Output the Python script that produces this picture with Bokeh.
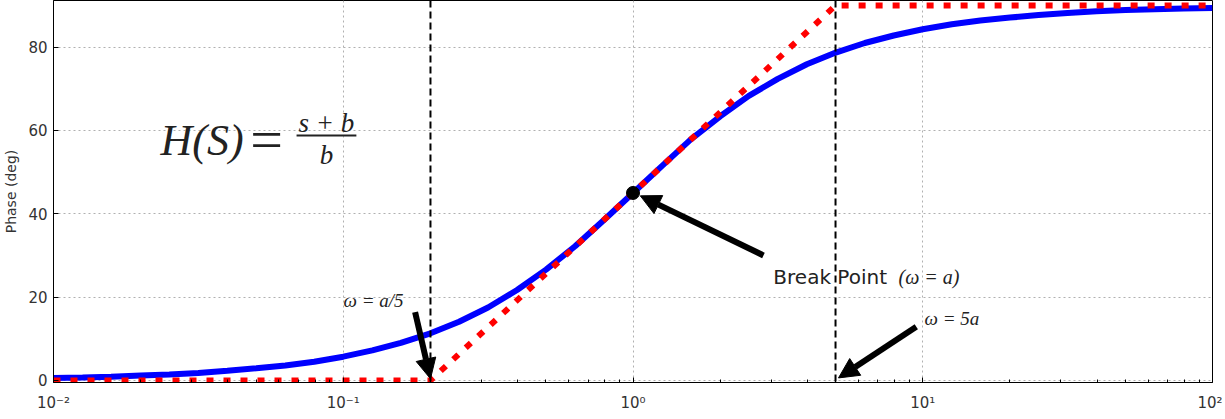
from bokeh.plotting import figure
from bokeh.models import (FixedTicker, CustomJSTickFormatter, Span, Label, Arrow,
                          NormalHead, Range1d)
from bokeh.embed import file_html
from bokeh.resources import INLINE

# ---- data ----
freq = [0.01, 0.0126, 0.0158, 0.02, 0.0251, 0.0316, 0.0398, 0.0501, 0.0631, 0.0794,
        0.1, 0.126, 0.158, 0.2, 0.251, 0.316, 0.398, 0.501, 0.631, 0.794,
        1.0, 1.26, 1.58, 2.0, 2.51, 3.16, 3.98, 5.01, 6.31, 7.94,
        10, 12.6, 15.8, 20, 25.1, 31.6, 39.8, 50.1, 63.1, 79.4, 100]
phase = [0.6, 0.7, 0.9, 1.2, 1.4, 1.8, 2.3, 2.9, 3.6, 4.5,
         5.7, 7.2, 9.0, 11.3, 14.1, 17.5, 21.7, 26.6, 32.2, 38.5,
         45.0, 51.5, 57.8, 63.4, 68.3, 72.4, 75.9, 78.7, 81.0, 82.8,
         84.3, 85.5, 86.4, 87.1, 87.7, 88.2, 88.6, 88.9, 89.1, 89.3, 89.4]
asym_freq = [0.01, 0.2, 5.0, 100]
asym_phase = [0, 0, 90, 90]
corner_freqs = [0.2, 5.0]
break_freq = [1.0]
break_phase = [45.0]
x_ticks = [0.01, 0.1, 1, 10, 100]
y_ticks = [0, 20, 40, 60, 80]

p = figure(x_axis_type="log", frame_width=1159, frame_height=382,
           min_border_left=47, min_border_right=10, min_border_top=0, min_border_bottom=20,
           x_range=Range1d(0.01, 100), y_range=Range1d(-0.5, 91.2),
           output_backend="svg", toolbar_location=None)
p.background_fill_color = "white"
p.outline_line_color = "black"
p.outline_line_width = 1

minor = [m * d for d in [0.01, 0.1, 1, 10] for m in range(2, 10)]
p.xaxis.ticker = FixedTicker(ticks=x_ticks, minor_ticks=minor)
p.yaxis.ticker = FixedTicker(ticks=y_ticks)
p.xaxis.formatter = CustomJSTickFormatter(code="""
const e = Math.round(Math.log10(tick));
const sup = {'-':'\u207b','0':'\u2070','1':'\u00b9','2':'\u00b2','3':'\u00b3'};
return '10' + String(e).split('').map(c => sup[c]).join('');
""")
for ax in (p.xaxis[0], p.yaxis[0]):
    ax.major_tick_in = 5
    ax.major_tick_out = 0
    ax.minor_tick_in = 3
    ax.minor_tick_out = 0
    ax.axis_line_color = "black"
    ax.major_label_text_font = "DejaVu Sans"
    ax.major_label_text_font_size = "15px"
    ax.major_label_text_color = "#333333"
p.xaxis.major_label_standoff = 11
p.yaxis.major_label_standoff = 6
p.yaxis.axis_label = "Phase (deg)"
p.yaxis.axis_label_text_font = "DejaVu Sans"
p.yaxis.axis_label_text_font_size = "14px"
p.yaxis.axis_label_text_font_style = "normal"
p.yaxis.axis_label_standoff = 6
p.yaxis.axis_label_text_color = "#333333"

for g in (p.xgrid[0], p.ygrid[0]):
    g.grid_line_color = "#b0b0b0"
    g.grid_line_dash = "2 3"
    g.grid_line_width = 1

# curves
p.line(freq, phase, line_color="#0000ff", line_width=6)
p.line(asym_freq, asym_phase, line_color="#ff0000", line_width=6, line_dash="7 10")

for f in corner_freqs:
    p.add_layout(Span(location=f, dimension="height", line_color="black",
                      line_width=2, line_dash="7 4"))

p.scatter(break_freq, break_phase, size=13, color="black")

# arrows
def arrow(xs, ys, xe, ye):
    p.add_layout(Arrow(end=NormalHead(size=20, fill_color="black", line_color="black"),
                       x_start=xs, y_start=ys, x_end=xe, y_end=ye,
                       line_color="black", line_width=6))

arrow(2.82, 30.0, 1.06, 44.3)
arrow(0.177, 16.4, 0.2, 0.4)
arrow(9.5, 12.9, 5.12, 0.6)

# texts
def label(x, y, text, font="Liberation Serif", size="18px", style="italic", align="left"):
    p.add_layout(Label(x=x, y=y, text=text, text_font=font, text_font_size=size,
                       text_font_style=style, text_align=align,
                       text_baseline="alphabetic", text_color="#222222"))

label(0.0234, 57.6, "H(S)", size="44px")
label(0.0478, 57.9, "=", size="58px", style="normal")
label(0.0875, 61.9, "s + b", size="27px", align="center")
label(0.0875, 54.0, "b", size="27px", align="center")
p.segment(x0=[0.069], y0=[58.8], x1=[0.111], y1=[58.8], line_color="#222222", line_width=2)

label(0.1002, 19.3, "\u03c9 = a/5", size="19px")
label(10.14, 14.8, "\u03c9 = 5a", size="19px")
label(3.05, 24.8, "Break Point", font="DejaVu Sans", size="20px", style="normal")
label(8.25, 24.8, "(\u03c9 = a)", size="20px")

open("out.html", "w").write(file_html(p, INLINE))
